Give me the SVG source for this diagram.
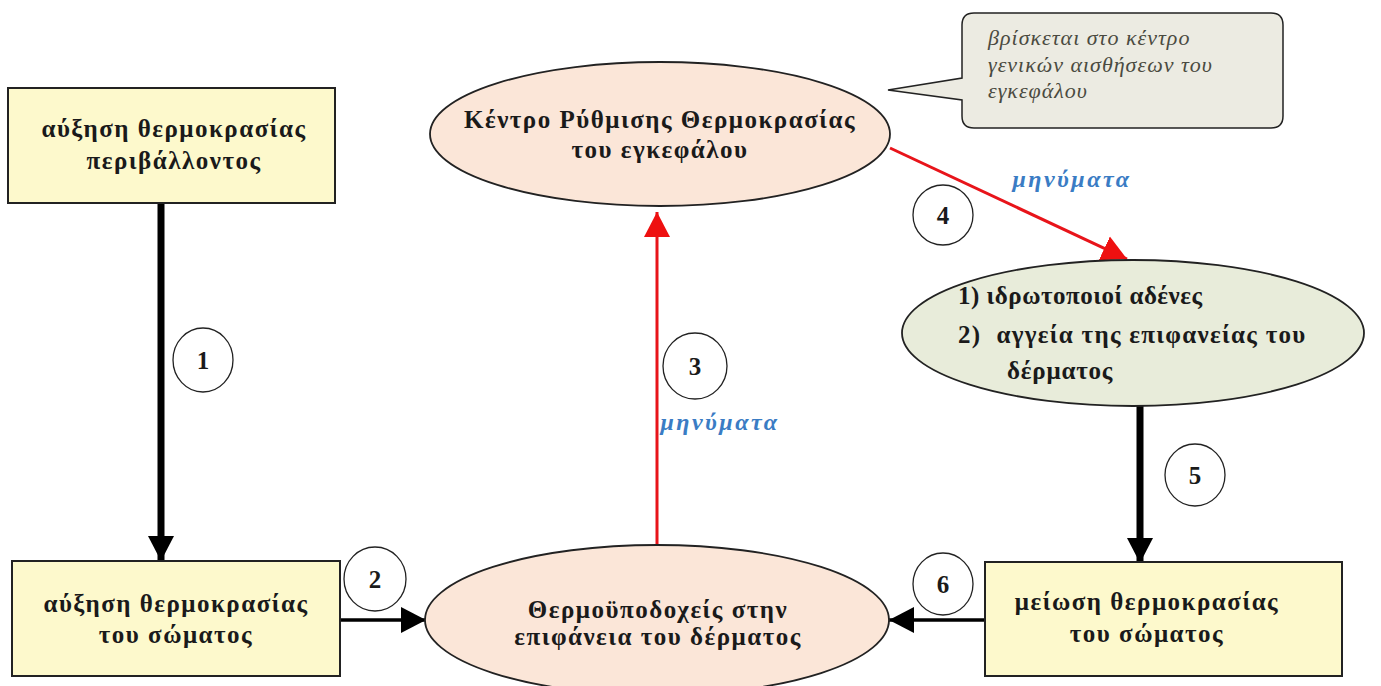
<svg xmlns="http://www.w3.org/2000/svg" width="1381" height="686" viewBox="0 0 1381 686">
<style>
.box{fill:#fdf9cc;stroke:#222;stroke-width:2}
.ell{fill:#fbe6d8;stroke:#222;stroke-width:1.8}
.ellg{fill:#e8ecda;stroke:#222;stroke-width:1.8}
.num{fill:#fff;stroke:#222;stroke-width:1.3}
.t{font-family:"Liberation Serif",serif;font-weight:bold;font-size:25px;fill:#1a1a1a;letter-spacing:1.5px}
.tn{font-family:"Liberation Serif",serif;font-weight:bold;font-size:25px;fill:#1a1a1a}
.msg{font-family:"Liberation Serif",serif;font-style:italic;font-weight:bold;font-size:24px;fill:#3a7cc4;letter-spacing:2.5px}
.call{font-family:"Liberation Serif",serif;font-style:italic;font-size:22px;fill:#4a4a40;letter-spacing:1px}
.blk{stroke:#000;stroke-width:7;fill:none}
.blk2{stroke:#000;stroke-width:3.5;fill:none}
.red{stroke:#e8141a;stroke-width:3;fill:none}
</style>
<defs>
<marker id="ab" markerUnits="userSpaceOnUse" markerWidth="28" markerHeight="28" refX="25" refY="14" orient="auto"><path d="M0,1 L25,14 L0,27 Z" fill="#000"/></marker>
<marker id="ar" markerUnits="userSpaceOnUse" markerWidth="28" markerHeight="28" refX="25" refY="14" orient="auto"><path d="M0,1 L25,14 L0,27 Z" fill="#ee1010"/></marker>
</defs>
<rect width="1381" height="686" fill="#fff"/>
<g id="connectors">
<line class="blk" x1="161" y1="203" x2="161" y2="561" marker-end="url(#ab)"/>
<line class="blk2" x1="340" y1="620" x2="426" y2="620" marker-end="url(#ab)"/>
<line class="red" x1="657" y1="545" x2="657" y2="212" marker-end="url(#ar)"/>
<line class="red" x1="890" y1="148" x2="1127" y2="259" marker-end="url(#ar)"/>
<line class="blk" x1="1140" y1="406" x2="1140" y2="563" marker-end="url(#ab)"/>
<line class="blk2" x1="985" y1="620" x2="889" y2="620" marker-end="url(#ab)"/>
<text class="msg" x="720" y="430" text-anchor="middle">μηνύματα</text>
<text class="msg" x="1072" y="187" text-anchor="middle">μηνύματα</text>
</g>
<g id="n-env">
<rect class="box" x="8" y="88" width="327" height="115"/>
<text class="t" x="174" y="137" text-anchor="middle">αύξηση θερμοκρασίας</text>
<text class="t" x="174" y="169" text-anchor="middle">περιβάλλοντος</text>
</g>
<g id="n-body-up">
<rect class="box" x="12" y="561" width="328" height="115"/>
<text class="t" x="176" y="612" text-anchor="middle">αύξηση θερμοκρασίας</text>
<text class="t" x="176" y="643" text-anchor="middle">του σώματος</text>
</g>
<g id="n-receptors">
<ellipse class="ell" cx="657" cy="620" rx="232" ry="75"/>
<text class="t" x="658" y="618" text-anchor="middle">Θερμοϋποδοχείς στην</text>
<text class="t" x="658" y="645" text-anchor="middle">επιφάνεια του δέρματος</text>
</g>
<g id="n-center">
<ellipse class="ell" cx="660" cy="134" rx="230" ry="72"/>
<text class="t" x="660" y="128" text-anchor="middle">Κέντρο Ρύθμισης Θερμοκρασίας</text>
<text class="t" x="660" y="158" text-anchor="middle">του εγκεφάλου</text>
</g>
<g id="n-callout">
<path d="M974,13 H1271 Q1283,13 1283,25 V116 Q1283,128 1271,128 H974 Q962,128 962,116 V100 L888,90 L962,78 V25 Q962,13 974,13 Z" fill="#ecebe2" stroke="#222" stroke-width="1.5"/>
<text class="call" x="988" y="45">βρίσκεται στο κέντρο</text>
<text class="call" x="988" y="72">γενικών αισθήσεων του</text>
<text class="call" x="988" y="98">εγκεφάλου</text>
</g>
<g id="n-effectors">
<ellipse class="ellg" cx="1133" cy="333" rx="231" ry="73"/>
<text class="t" x="958" y="304" style="letter-spacing:0.5px">1) ιδρωτοποιοί αδένες</text>
<text class="t" x="958" y="343" xml:space="preserve" style="letter-spacing:1.3px">2)  αγγεία της επιφανείας του</text>
<text class="t" x="1007" y="379" style="letter-spacing:0.8px">δέρματος</text>
</g>
<g id="n-body-down">
<rect class="box" x="985" y="562" width="357" height="114"/>
<text class="t" x="1147" y="610" text-anchor="middle">μείωση θερμοκρασίας</text>
<text class="t" x="1147" y="642" text-anchor="middle">του σώματος</text>
</g>
<g id="labels">
<ellipse class="num" cx="203" cy="360" rx="30" ry="32"/><text class="tn" x="203" y="369" text-anchor="middle">1</text>
<ellipse class="num" cx="375" cy="579" rx="31" ry="32"/><text class="tn" x="375" y="588" text-anchor="middle">2</text>
<ellipse class="num" cx="695" cy="366" rx="32" ry="33"/><text class="tn" x="695" y="375" text-anchor="middle">3</text>
<ellipse class="num" cx="943" cy="215" rx="30" ry="30"/><text class="tn" x="943" y="224" text-anchor="middle">4</text>
<ellipse class="num" cx="1195" cy="475" rx="30" ry="31"/><text class="tn" x="1195" y="484" text-anchor="middle">5</text>
<ellipse class="num" cx="943" cy="584" rx="30" ry="31"/><text class="tn" x="943" y="593" text-anchor="middle">6</text>
</g>
</svg>
